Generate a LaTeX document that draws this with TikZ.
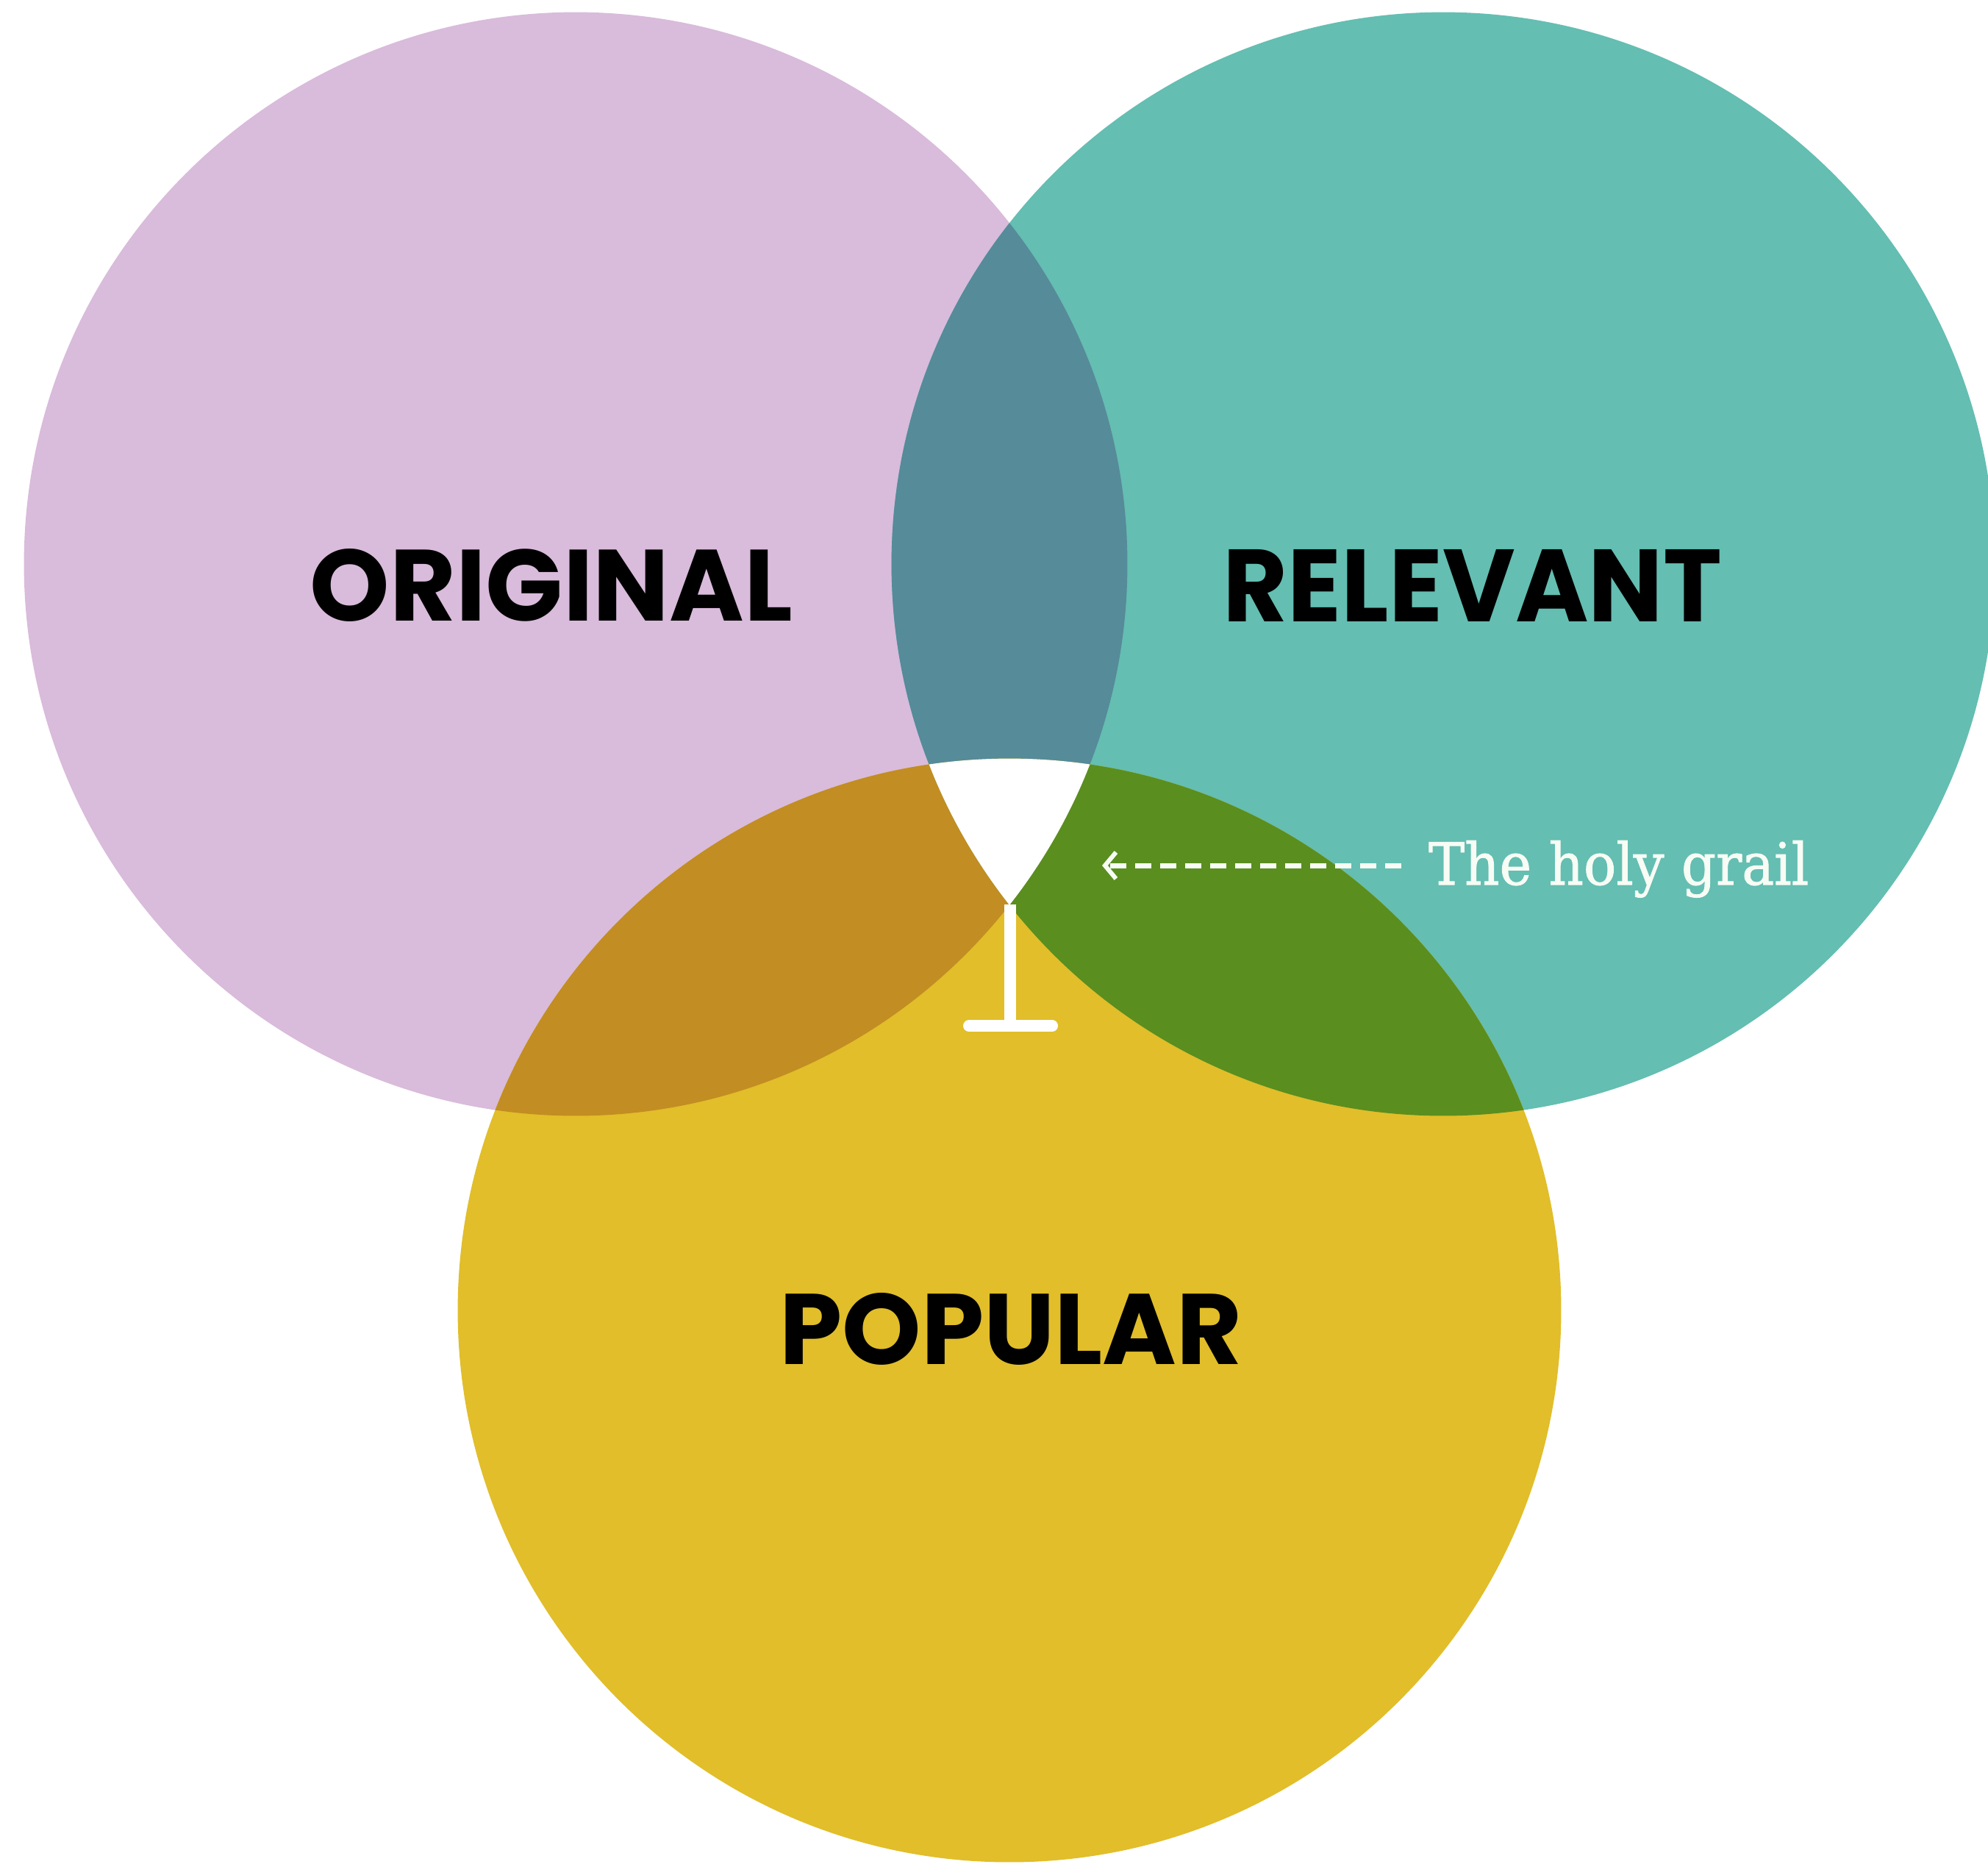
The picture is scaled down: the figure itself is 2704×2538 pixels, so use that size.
\documentclass[tikz,border=0pt]{standalone}
\usepackage{fontspec}
\usepackage{graphicx}
\usetikzlibrary{arrows.meta}
\newfontfamily\labfont{Poppins}[UprightFont=* Bold]
\newfontfamily\grailfont{DejaVu Serif}[FakeBold=1.2]
\definecolor{cPurple}{HTML}{D9BBDB}
\definecolor{cTeal}{HTML}{64BEB2}
\definecolor{cYellow}{HTML}{E1BE2A}
\definecolor{cPT}{HTML}{568B99}
\definecolor{cPY}{HTML}{C28D22}
\definecolor{cTY}{HTML}{5A8E1F}
\definecolor{cGrail}{HTML}{F7FCF4}
\tikzset{
  venn/.style={radius=7.5cm},
  lbl/.style={inner sep=0pt, outer sep=0pt, text=black},
  goblet/.style={draw=white, line width=0.16cm},
  grailarrow/.style={draw=cGrail, line width=0.07cm, dash pattern=on 0.22cm off 0.12cm,
    -{Straight Barb[length=0.15cm,width=0.36cm,line width=0.06cm]}},
}
\begin{document}
\begin{tikzpicture}[x=0.01cm,y=-0.01cm]
\useasboundingbox (0,0) rectangle (2704,2538);
\fill[white] (0,0) rectangle (2704,2538);
\clip (0,0) rectangle (2704,2538);
\coordinate (O) at (783,767);
\coordinate (R) at (1963,767);
\coordinate (P) at (1373,1782);
% base circles
\fill[cPurple] (O) circle[venn];
\fill[cTeal] (R) circle[venn];
\fill[cYellow] (P) circle[venn];
% pairwise overlaps
\begin{scope}
  \clip (O) circle[venn];
  \fill[cPT] (R) circle[venn];
\end{scope}
\begin{scope}
  \clip (O) circle[venn];
  \fill[cPY] (P) circle[venn];
\end{scope}
\begin{scope}
  \clip (R) circle[venn];
  \fill[cTY] (P) circle[venn];
\end{scope}
% triple overlap: the grail cup
\begin{scope}
  \clip (O) circle[venn];
  \clip (R) circle[venn];
  \fill[white] (P) circle[venn];
\end{scope}
% goblet stem and foot
\coordinate (stemtop) at (1374,1230);
\coordinate (stembot) at (1374,1395);
\coordinate (footl) at (1318,1395);
\coordinate (footr) at (1431,1395);
\draw[goblet] (stemtop) -- (stembot);
\draw[goblet, line cap=round] (footl) -- (footr);
% labels
\node[lbl] (original) at (750,796) {\resizebox{6.56cm}{0.98cm}{\labfont ORIGINAL}};
\node[lbl] (relevant) at (2003,796) {\resizebox{6.78cm}{0.98cm}{\labfont RELEVANT}};
\node[lbl] (popular) at (1375,1807) {\resizebox{6.29cm}{0.97cm}{\labfont POPULAR}};
% holy grail annotation
\node[lbl, anchor=base west, text=cGrail] (grail) at (1943,1203)
  {\resizebox{5.17cm}{0.60cm}{\grailfont The holy grail}};
\coordinate (tail) at (1906,1177);
\coordinate (tip) at (1499,1177);
\draw[grailarrow] (tail) -- (tip);
\end{tikzpicture}
\end{document}
